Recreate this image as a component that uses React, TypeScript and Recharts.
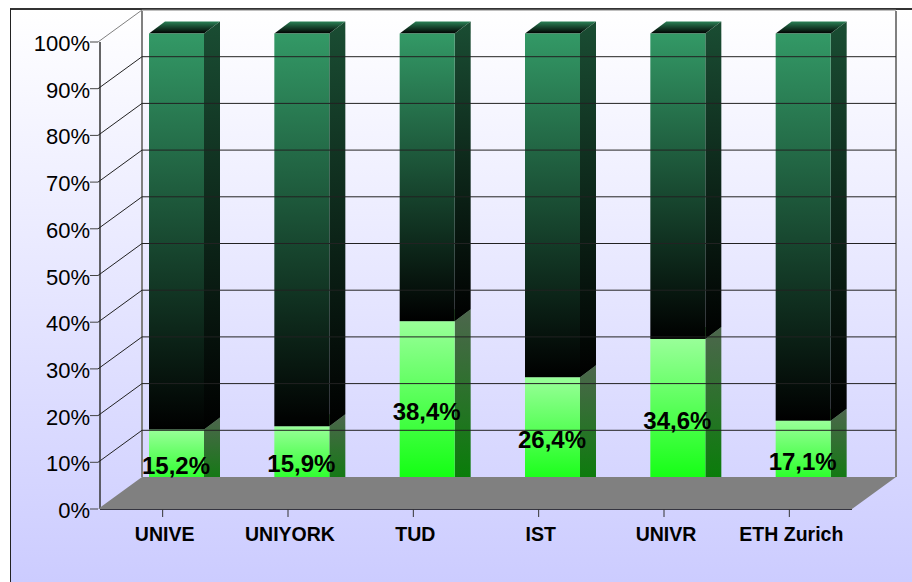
import { BarChart, Bar, XAxis, YAxis, LabelList } from "recharts";

const universities = ["UNIVE", "UNIYORK", "TUD", "IST", "UNIVR", "ETH Zurich"];
const lowerShare = [15.2, 15.9, 38.4, 26.4, 34.6, 17.1];
const upperShare = [84.8, 84.1, 61.6, 73.6, 65.4, 82.9];
const percentTicks = [0, 10, 20, 30, 40, 50, 60, 70, 80, 90, 100];

const data = universities.map((name, i) => ({
  name,
  lower: lowerShare[i],
  upper: upperShare[i],
}));

// fake 3D: wall offset of the chart box, and offset/depth of the bars inside it
const WALL_DX = 44;
const WALL_DY = 32;
const WALL_RIGHT = 896;
const BAR_DX = 14;
const BAR_DY = 8.5;
const BAR_DEPTH_X = 16;
const BAR_DEPTH_Y = 12;

function PercentTick({ x, y, payload }: any) {
  const axisX = x + 8;
  const backY = y - WALL_DY;
  const isFloor = payload.value === 0;
  const isTop = payload.value === 100;
  return (
    <g>
      {isFloor && (
        <polygon
          points={`${axisX},${y} ${axisX + WALL_DX},${backY} ${WALL_RIGHT},${backY} ${WALL_RIGHT - WALL_DX},${y}`}
          fill="#808080"
        />
      )}
      {isFloor && (
        <line x1={axisX + WALL_DX} y1={backY} x2={axisX + WALL_DX} y2={backY - 466} stroke="#808080" strokeWidth={2} />
      )}
      {isFloor && (
        <line x1={WALL_RIGHT} y1={backY} x2={WALL_RIGHT} y2={backY - 466} stroke="#808080" strokeWidth={2} />
      )}
      {!isFloor && (
        <line x1={axisX} y1={y} x2={axisX + WALL_DX} y2={backY} stroke={isTop ? "#808080" : "#222"} />
      )}
      {!isFloor && (
        <line x1={axisX + WALL_DX} y1={backY} x2={WALL_RIGHT} y2={backY} stroke={isTop ? "#808080" : "#222"} />
      )}
      <line x1={x} y1={y} x2={axisX} y2={y} stroke="#444" />
      <text
        x={x}
        y={y + 9}
        textAnchor="end"
        fontFamily="Liberation Sans"
        fontSize={22}
        fill="#000"
      >
        {payload.value}%
      </text>
    </g>
  );
}

function CategoryTick({ x, y, payload }: any) {
  return (
    <text x={x + 2} y={y + 22} textAnchor="middle" fontFamily="Liberation Sans" fontWeight="bold" fontSize={19.5} fill="#000">
      {payload.value}
    </text>
  );
}

function Block({ x, y, width, height, capFill, sideFill, frontFill }: any) {
  const left = x + BAR_DX;
  const top = y - BAR_DY;
  const right = left + width;
  const bottom = top + height;
  const dx = BAR_DEPTH_X;
  const dy = BAR_DEPTH_Y;
  return (
    <g>
      <polygon
        points={`${left},${top} ${left + dx},${top - dy} ${right + dx},${top - dy} ${right},${top}`}
        fill={capFill}
      />
      <polygon
        points={`${right},${top} ${right + dx},${top - dy} ${right + dx},${bottom - dy} ${right},${bottom}`}
        fill={sideFill}
      />
      <rect x={left} y={top} width={width} height={height} fill={frontFill} />
    </g>
  );
}

function LowerBlock(props: any) {
  return <Block {...props} capFill="#66cc66" sideFill="url(#sideLight)" frontFill="url(#frontLight)" />;
}

function UpperBlock(props: any) {
  return <Block {...props} capFill="url(#capDark)" sideFill="url(#sideDark)" frontFill="url(#frontDark)" />;
}

function ShareLabel({ x, y, width, height, value }: any) {
  return (
    <text
      x={x + BAR_DX + width / 2 - 0.5}
      y={y - BAR_DY + height / 2 + 9}
      textAnchor="middle"
      fontFamily="Liberation Sans"
      fontWeight="bold"
      fontSize={24}
      fill="#000"
    >
      {String(value).replace(".", ",")}%
    </text>
  );
}

export default function App() {
  return (
    <div style={{ position: "absolute", left: 0, top: 0, width: 912, height: 582, background: "#fff", overflow: "hidden" }}>
      <div
        style={{
          position: "absolute",
          left: 10,
          top: 8,
          width: 902,
          height: 574,
          boxSizing: "border-box",
          borderLeft: "1.5px solid #222",
          borderTop: "2px solid #333",
          background: "linear-gradient(#ffffff, #ccccff)",
        }}
      />
      <BarChart
        width={912}
        height={582}
        data={data}
        barSize={55}
        margin={{ top: 42, right: 60, bottom: 0, left: 0 }}
        style={{ position: "absolute", left: 0, top: 0 }}
      >
        <defs>
          <linearGradient id="frontDark" x1="0" y1="0" x2="0" y2="1">
            <stop offset="0%" stopColor="#339966" />
            <stop offset="100%" stopColor="#000000" />
          </linearGradient>
          <linearGradient id="sideDark" x1="0" y1="0" x2="0" y2="1">
            <stop offset="0%" stopColor="#1a4d33" />
            <stop offset="100%" stopColor="#000000" />
          </linearGradient>
          <linearGradient id="capDark" x1="0" y1="0" x2="0" y2="1">
            <stop offset="0%" stopColor="#2a8055" />
            <stop offset="100%" stopColor="#000000" />
          </linearGradient>
          <linearGradient id="frontLight" x1="0" y1="0" x2="0" y2="1">
            <stop offset="0%" stopColor="#99ff99" />
            <stop offset="100%" stopColor="#00ff00" />
          </linearGradient>
          <linearGradient id="sideLight" x1="0" y1="0" x2="0" y2="1">
            <stop offset="0%" stopColor="#4d664d" />
            <stop offset="100%" stopColor="#008000" />
          </linearGradient>
        </defs>
        <YAxis
          type="number"
          domain={[0, 100]}
          ticks={percentTicks}
          interval={0}
          width={100}
          tickSize={8}
          tickLine={false}
          tick={<PercentTick />}
          axisLine={{ stroke: "#333", strokeWidth: 1.5 }}
          zIndex={100}
        />
        <XAxis
          dataKey="name"
          height={73}
          interval={0}
          tickSize={8}
          tickLine={{ stroke: "#333" }}
          tick={<CategoryTick />}
          axisLine={{ stroke: "#000", strokeWidth: 1.5 }}
          zIndex={100}
        />
        <Bar dataKey="lower" stackId="share" shape={<LowerBlock />} isAnimationActive={false}>
          <LabelList dataKey="lower" content={<ShareLabel />} />
        </Bar>
        <Bar dataKey="upper" stackId="share" shape={<UpperBlock />} isAnimationActive={false} />
      </BarChart>
    </div>
  );
}
